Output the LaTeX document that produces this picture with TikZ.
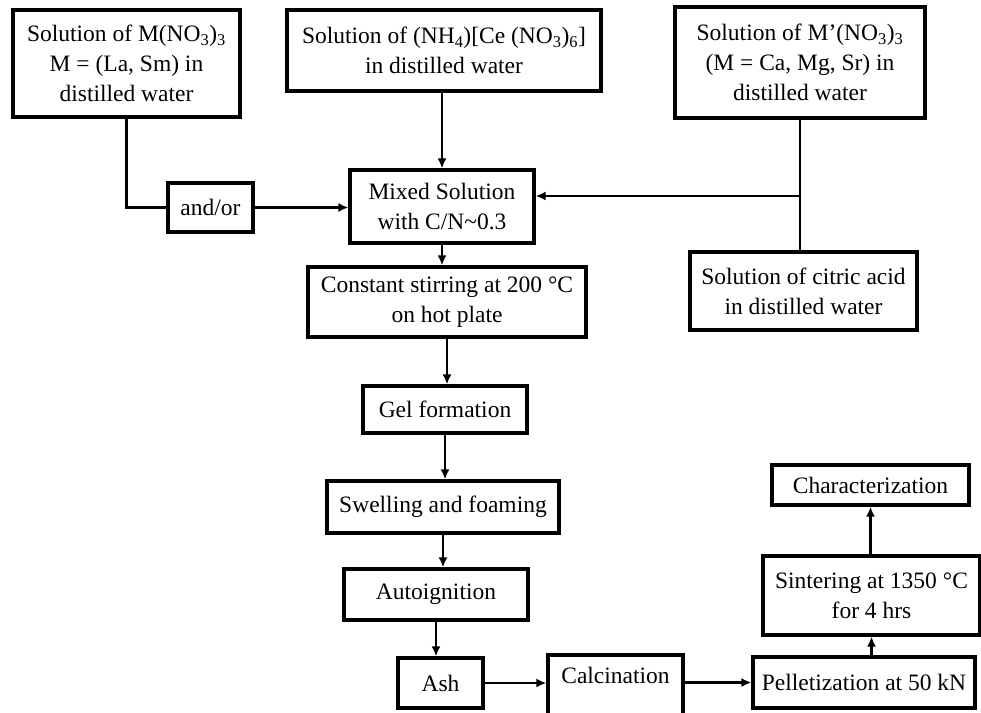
\documentclass[tikz,border=0pt]{standalone}
\usepackage{fontspec}
\setmainfont{Liberation Serif}
\usetikzlibrary{arrows.meta}
\begin{document}
\begin{tikzpicture}[x=1pt,y=-1pt]
            \tikzset{
                box/.style={draw, line width=3.2pt, align=center, inner sep=0pt, font=\fontsize{23.5}{30}\selectfont},arc/.style={-{Latex[length=10pt,width=9pt]}, line width=2.5pt}
            }
            \useasboundingbox (0,0) rectangle (981,712);
            \draw node[box, minimum width=227, minimum height=107] (mnit) at (126.5,63.5) {Solution of M(NO\textsubscript{3})\textsubscript{3}\\ M = (La, Sm) in\\ distilled water};
            \draw node[box, minimum width=314, minimum height=81] (cenit) at (444,50.5) {Solution of (NH\textsubscript{4})[Ce (NO\textsubscript{3})\textsubscript{6}]\\ in distilled water};
            \draw node[box, minimum width=250, minimum height=111] (mpnit) at (800,62.5) {Solution of M’(NO\textsubscript{3})\textsubscript{3}\\ (M = Ca, Mg, Sr) in\\ distilled water};
            \draw node[box, minimum width=227, minimum height=78] (citric) at (803.5,291) {Solution of citric acid\\ in distilled water};
            \draw node[box, minimum width=85, minimum height=49] (andor) at (210.5,207.5) {and/or};
            \draw node[box, minimum width=184, minimum height=73] (mixed) at (442,206.5) {Mixed Solution\\ with C/N\textasciitilde0.3};
            \draw node[box, minimum width=278, minimum height=70] (stir) at (447,302) {Constant stirring at 200 °C\\ on hot plate};
            \draw node[box, minimum width=164, minimum height=47] (gel) at (445,409.5) {Gel formation};
            \draw node[box, minimum width=232, minimum height=52] (swell) at (443,507) {Swelling and foaming};
            \draw node[box, minimum width=184, minimum height=51] (auto) at (436,594.5) {Autoignition};
            \draw node[box, minimum width=85, minimum height=50] (ash) at (440.5,683) {Ash};
            \draw node[box, minimum width=135, minimum height=62, text depth=21pt] (calc) at (615.5,686) {Calcination};
            \draw node[box, minimum width=222, minimum height=51] (pellet) at (864,682.5) {Pelletization at 50 kN};
            \draw node[box, minimum width=217, minimum height=79] (sinter) at (871.5,595.5) {Sintering at 1350 °C\\ for 4 hrs};
            \draw node[box, minimum width=197, minimum height=40] (charact) at (870.5,485) {Characterization};
            \coordinate (join) at (799,196);
            \draw[line width=3.5pt] (mnit.south) -- (mnit.south |- andor.west) -- (andor.west);
            \draw[arc] (andor.east) -- (andor.east -| mixed.west);
            \draw[arc] (mixed.north |- cenit.south) -- (mixed.north);
            \draw[line width=2.5pt] (mpnit.south) -- (mpnit.south |- citric.north);
            \draw[arc] (join) -- (join -| mixed.east);
            \foreach \x/\y in {%
            mixed/stir,stir/gel,gel/swell,swell/auto,auto/ash%
            }{
                \draw[arc] (\x.south) -- (\x.south |- \y.north);
            }
            \draw[arc] (ash.east) -- (ash.east -| calc.west);
            \draw[arc] (calc.east |- pellet.west) -- (pellet.west);
            \foreach \x/\y in {pellet/sinter,sinter/charact}{
                \draw[arc] (\y.south |- \x.north) -- (\y.south);
            }
        \end{tikzpicture}
\end{document}
